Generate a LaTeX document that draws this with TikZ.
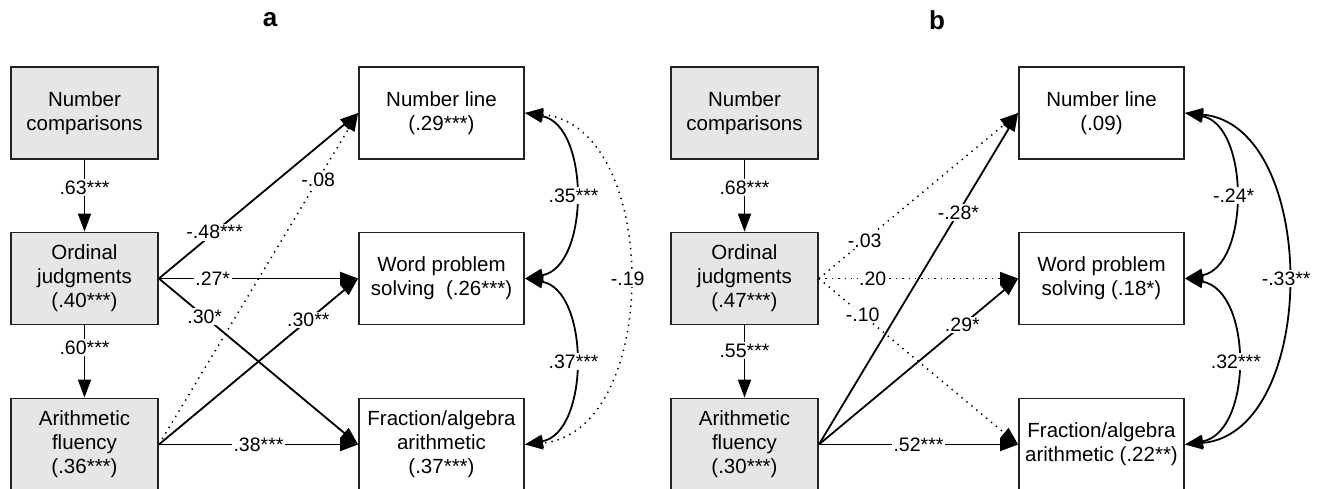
\documentclass[tikz,border=0pt]{standalone}
\usepackage{fontspec}
\setmainfont{Liberation Sans}
\usetikzlibrary{arrows.meta}
\definecolor{boxgray}{HTML}{E6E6E6}
\definecolor{edge}{HTML}{222222}
\begin{document}
\begin{tikzpicture}[x=1pt,y=-1pt,
  box/.style={draw=edge, line width=1.8pt, minimum width=147pt, minimum height=92pt, align=center, font=\fontsize{20.5}{24}\selectfont, inner sep=0pt},
  lbox/.style={box, fill=boxgray},
  rbox/.style={box, minimum width=165pt},
  arr/.style={line width=1.8pt, -{Triangle[length=18pt,width=13pt]}},
  darr/.style={arr, line width=1.5pt, dash pattern=on 1.4pt off 5pt},
  both/.style={{Triangle[length=18pt,width=13pt]}-{Triangle[length=18pt,width=13pt]}},
  lab/.style={fill=white, inner sep=1.5pt, font=\fontsize{19.5}{22}\selectfont},
  ttl/.style={font=\fontsize{26}{30}\selectfont\bfseries},
]
\useasboundingbox (0,0) rectangle (1322,489);

% ---------- panel a ----------
\node[ttl] (ta) at (270,20) {a};
\node[lbox] (anc) at (84.5,113) {Number\\comparisons};
\node[lbox] (aoj) at (84.5,278.5) {Ordinal\\judgments\\(.40***)};
\node[lbox] (aaf) at (84.5,444.5) {Arithmetic\\fluency\\(.36***)};
\node[rbox] (anl) at (441.5,113) {Number line\\(.29***)};
\node[rbox] (awp) at (441.5,278.5) {Word problem\\solving~~(.26***)};
\node[rbox] (afa) at (441.5,444.5) {Fraction/algebra\\arithmetic\\(.37***)};

\draw[arr] (anc) -- (aoj) node[lab,pos=0.39]{.63***};
\draw[arr] (aoj) -- (aaf) node[lab,pos=0.31]{.60***};

\draw[darr] (aaf.east) -- (anl.west) node[lab,pos=0.80]{-.08};
\draw[arr] (aoj.east) -- (anl.west) node[lab,pos=0.28]{-.48***};
\draw[arr] (aoj.east) -- (awp.west) node[lab,pos=0.27]{.27*};
\draw[arr] (aoj.east) -- (afa.west) node[lab,pos=0.23]{.30*};
\draw[arr] (aaf.east) -- (awp.west) node[lab,pos=0.75]{.30**};
\draw[arr] (aaf.east) -- (afa.west) node[lab,pos=0.5]{.38***};

\draw[arr,both] (anl.east) .. controls +(65,12) and +(65,-12) .. (awp.east) node[lab,pos=0.5]{.35***};
\draw[arr,both] (awp.east) .. controls +(65,12) and +(65,-12) .. (afa.east) node[lab,pos=0.5]{.37***};
\draw[darr,both] (anl.east) .. controls +(137,12) and +(137,-12) .. (afa.east) node[lab,pos=0.5]{-.19};

% ---------- panel b ----------
\node[ttl] (tb) at (937,20) {b};
\node[lbox] (bnc) at (744.5,113) {Number\\comparisons};
\node[lbox] (boj) at (744.5,278.5) {Ordinal\\judgments\\(.47***)};
\node[lbox] (baf) at (744.5,444.5) {Arithmetic\\fluency\\(.30***)};
\node[rbox] (bnl) at (1101.5,113) {Number line\\(.09)};
\node[rbox] (bwp) at (1101.5,278.5) {Word problem\\solving (.18*)};
\node[rbox] (bfa) at (1101.5,444.5) {Fraction/algebra\\arithmetic (.22**)};

\draw[arr] (bnc) -- (boj) node[lab,pos=0.39]{.68***};
\draw[arr] (boj) -- (baf) node[lab,pos=0.35]{.55***};

\draw[darr] (boj.east) -- (bnl.west) node[lab,pos=0.23]{-.03};
\draw[darr] (boj.east) -- (bwp.west) node[lab,pos=0.27]{.20};
\draw[darr] (boj.east) -- (bfa.west) node[lab,pos=0.22]{-.10};
\draw[arr] (baf.east) -- (bnl.west) node[lab,pos=0.70]{-.28*};
\draw[arr] (baf.east) -- (bwp.west) node[lab,pos=0.72]{.29*};
\draw[arr] (baf.east) -- (bfa.west) node[lab,pos=0.5]{.52***};

\draw[arr,both] (bnl.east) .. controls +(65,12) and +(65,-12) .. (bwp.east) node[lab,pos=0.5]{-.24*};
\draw[arr,both] (bwp.east) .. controls +(68,12) and +(68,-12) .. (bfa.east) node[lab,pos=0.5]{.32***};
\draw[arr,both] (bnl.east) .. controls +(135,12) and +(135,-12) .. (bfa.east) node[lab,pos=0.5]{-.33**};
\end{tikzpicture}
\end{document}
